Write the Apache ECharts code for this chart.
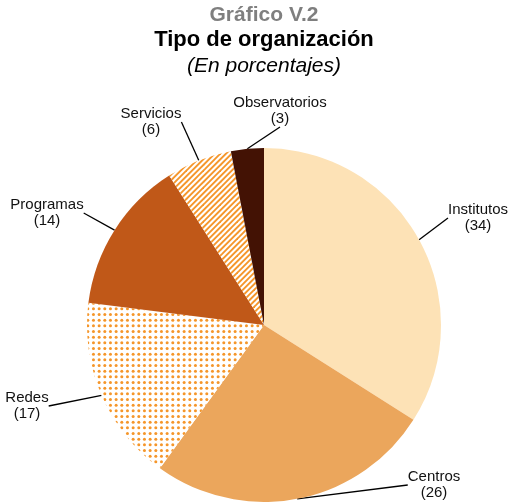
<!DOCTYPE html>
<html><head><meta charset="utf-8">
<script src="https://cdn.jsdelivr.net/npm/echarts@6/dist/echarts.min.js"></script>
<style>html,body{margin:0;padding:0;background:#fff}#c{width:508px;height:502px}</style>
</head><body><div id="c"></div>
<script>
const categories = ['Institutos', 'Centros', 'Redes', 'Programas', 'Servicios', 'Observatorios'];
const values = [34, 26, 17, 14, 6, 3];
const titleLines = ['Gráfico V.2', 'Tipo de organización', '(En porcentajes)'];

// label block centres (layout only)
const labelPos = [[478, 218], [434, 485], [27, 406], [47, 213], [151, 122], [280, 111]];

const ORANGE = '#F5962A';
function dotPattern() {
  const s = 17, c = document.createElement('canvas');
  c.width = s; c.height = s;
  const g = c.getContext('2d');
  g.fillStyle = '#fff'; g.fillRect(0, 0, s, s);
  g.fillStyle = ORANGE;
  for (let i = 0; i < 3; i++) for (let j = 0; j < 3; j++) {
    g.beginPath(); g.arc(2.8 + i * s / 3, 2.8 + j * s / 3, 1.5, 0, Math.PI * 2); g.fill();
  }
  return c;
}
function hatchPattern() {
  const s = 17, c = document.createElement('canvas');
  c.width = s; c.height = s;
  const g = c.getContext('2d');
  g.fillStyle = '#fff'; g.fillRect(0, 0, s, s);
  g.strokeStyle = ORANGE; g.lineWidth = 1.9;
  const p = s / 3;
  for (let k = -3; k <= 6; k++) {
    g.beginPath(); g.moveTo(k * p - 2, s + 2); g.lineTo(k * p + s + 2, -2); g.stroke();
  }
  return c;
}

const fills = ['#FDE2B6', '#EBA65C', { image: dotPattern(), repeat: 'repeat' }, '#C05818',
  { image: hatchPattern(), repeat: 'repeat' }, '#431204'];

const chart = echarts.init(document.getElementById('c'), null, { renderer: 'canvas' });
const FONT = '"Liberation Sans", Arial, sans-serif';
chart.setOption({
  animation: false,
  title: [
    { text: titleLines[0], left: 264, top: 5, padding: 0, textAlign: 'center',
      textStyle: { fontFamily: FONT, fontSize: 21, fontWeight: 'bold', color: '#7F7F7F', lineHeight: 21 } },
    { text: titleLines[1], left: 264, top: 29, padding: 0, textAlign: 'center',
      textStyle: { fontFamily: FONT, fontSize: 22, fontWeight: 'bold', color: '#000', lineHeight: 22 } },
    { text: titleLines[2], left: 264, top: 56, padding: 0, textAlign: 'center',
      textStyle: { fontFamily: FONT, fontSize: 21, fontStyle: 'italic', fontWeight: 'normal', color: '#000', lineHeight: 21 } }
  ],
  series: [{
    type: 'pie',
    center: [264, 325],
    radius: 177,
    startAngle: 90,
    clockwise: true,
    avoidLabelOverlap: false,
    emphasis: { disabled: true },
    itemStyle: { borderWidth: 0 },
    label: {
      show: true, position: 'outside', formatter: '{b}\n({c})',
      fontFamily: FONT, fontSize: 15, lineHeight: 16, color: '#111'
    },
    labelLine: { show: true, length: 20, length2: 0, smooth: false, lineStyle: { color: '#000', width: 1.3 } },
    labelLayout: function (p) {
      const q = labelPos[p.dataIndex];
      return { x: q[0], y: q[1], align: 'center', verticalAlign: 'middle' };
    },
    data: categories.map((n, i) => ({ name: n, value: values[i], itemStyle: { color: fills[i] } }))
  }]
});
</script></body></html>
